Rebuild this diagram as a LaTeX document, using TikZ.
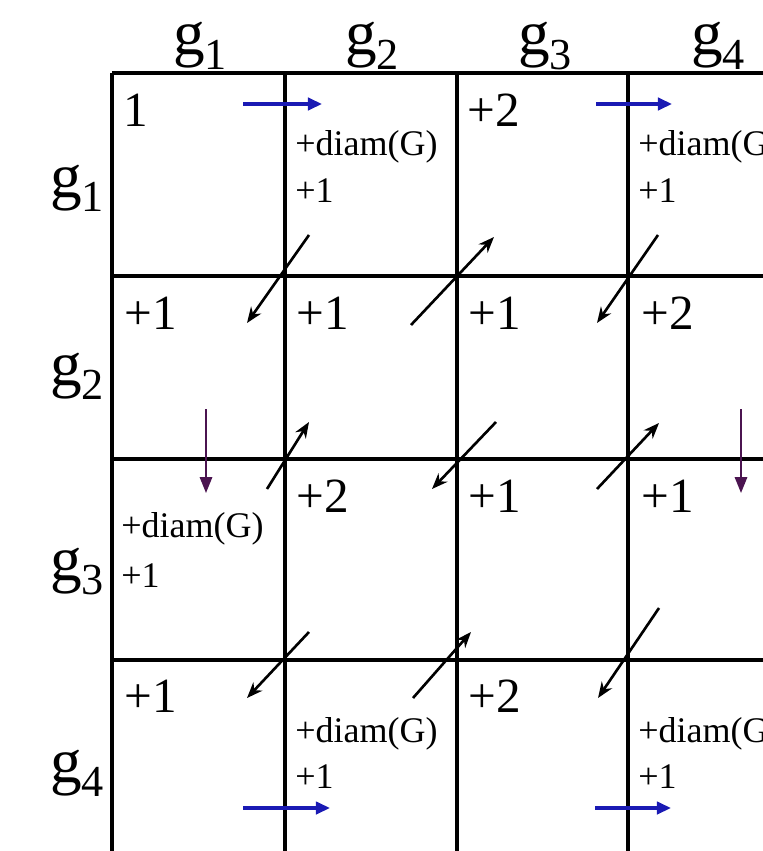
\documentclass[tikz,border=0pt]{standalone}
\usepackage{fontspec}
\setmainfont{Liberation Serif}
\newfontfamily\gridfont{Liberation Serif}
\usetikzlibrary{arrows.meta}
\definecolor{stepBlue}{HTML}{1A1AB4}
\definecolor{stepPurple}{HTML}{4B1450}

\begin{document}
\begin{tikzpicture}[x=0.02cm, y=-0.02cm,
    every node/.style={inner sep=0pt, anchor=base west},
    glab/.style={font=\gridfont\fontsize{36}{38}\selectfont},
    bigval/.style={font=\gridfont\fontsize{28}{30}\selectfont},
    smallval/.style={font=\gridfont\fontsize{20.5}{22}\selectfont},
    gridline/.style={line width=2.3pt},
    diag/.style={line width=1.5pt, -{Stealth[length=9pt,width=7pt]}},
    bluemove/.style={stepBlue, line width=1.8pt, -{Triangle[length=8pt,width=7pt]}},
    purplemove/.style={stepPurple, line width=1.1pt, -{Triangle[length=9pt,width=7pt]}}]
    \useasboundingbox (0,0) rectangle (763,851);
    \clip (0,0) rectangle (763,851);
    % grid
    \foreach \gx in {112,285,457,628}
        \draw[gridline] (\gx,73) -- (\gx,900);
    \foreach \gy in {73,276,459,660}
        \draw[gridline] (112,\gy) -- (820,\gy);
    % labels
    \node[glab] (colA) at (173,55) {g\textsubscript{1}};
    \node[glab] (colB) at (345,55) {g\textsubscript{2}};
    \node[glab] (colC) at (518,55) {g\textsubscript{3}};
    \node[glab] (colD) at (691,55) {g\textsubscript{4}};
    \node[glab] (rowA) at (50,197) {g\textsubscript{1}};
    \node[glab] (rowB) at (50,385) {g\textsubscript{2}};
    \node[glab] (rowC) at (50,580) {g\textsubscript{3}};
    \node[glab] (rowD) at (50,782) {g\textsubscript{4}};
    % row 1
    \node[bigval] (cAA) at (123,127) {1};
    \node[smallval] (cABd) at (295,156) {+diam(G)};
    \node[smallval] (cABo) at (295,202) {+1};
    \node[bigval] (cAC) at (467,127) {+2};
    \node[smallval] (cADd) at (638,156) {+diam(G)};
    \node[smallval] (cADo) at (638,202) {+1};
    % row 2
    \node[bigval] (cBA) at (124,329) {+1};
    \node[bigval] (cBB) at (296,329) {+1};
    \node[bigval] (cBC) at (468,329) {+1};
    \node[bigval] (cBD) at (641,329) {+2};
    % row 3
    \node[smallval] (cCAd) at (121,537) {+diam(G)};
    \node[smallval] (cCAo) at (121,587) {+1};
    \node[bigval] (cCB) at (296,512) {+2};
    \node[bigval] (cCC) at (468,512) {+1};
    \node[bigval] (cCD) at (641,512) {+1};
    % row 4
    \node[bigval] (cDA) at (124,712) {+1};
    \node[smallval] (cDBd) at (295,742) {+diam(G)};
    \node[smallval] (cDBo) at (295,788) {+1};
    \node[bigval] (cDC) at (468,712) {+2};
    \node[smallval] (cDDd) at (638,742) {+diam(G)};
    \node[smallval] (cDDo) at (638,788) {+1};
    % moves across the crossings
    \draw[diag] (309,235) -- (247,323);
    \draw[diag] (411,325) -- (494,237);
    \draw[diag] (658,235) -- (597,323);
    \draw[diag] (267,489) -- (309,422);
    \draw[diag] (496,422) -- (432,489);
    \draw[diag] (597,489) -- (659,423);
    \draw[diag] (309,632) -- (247,698);
    \draw[diag] (413,698) -- (471,632);
    \draw[diag] (659,608) -- (598,698);
    % row moves
    \draw[bluemove] (243,104) -- (322,104);
    \draw[bluemove] (596,104) -- (672,104);
    \draw[bluemove] (243,808) -- (330,808);
    \draw[bluemove] (595,808) -- (671,808);
    % column moves
    \draw[purplemove] (206,409) -- (206,493);
    \draw[purplemove] (741,409) -- (741,493);
\end{tikzpicture}
\end{document}
